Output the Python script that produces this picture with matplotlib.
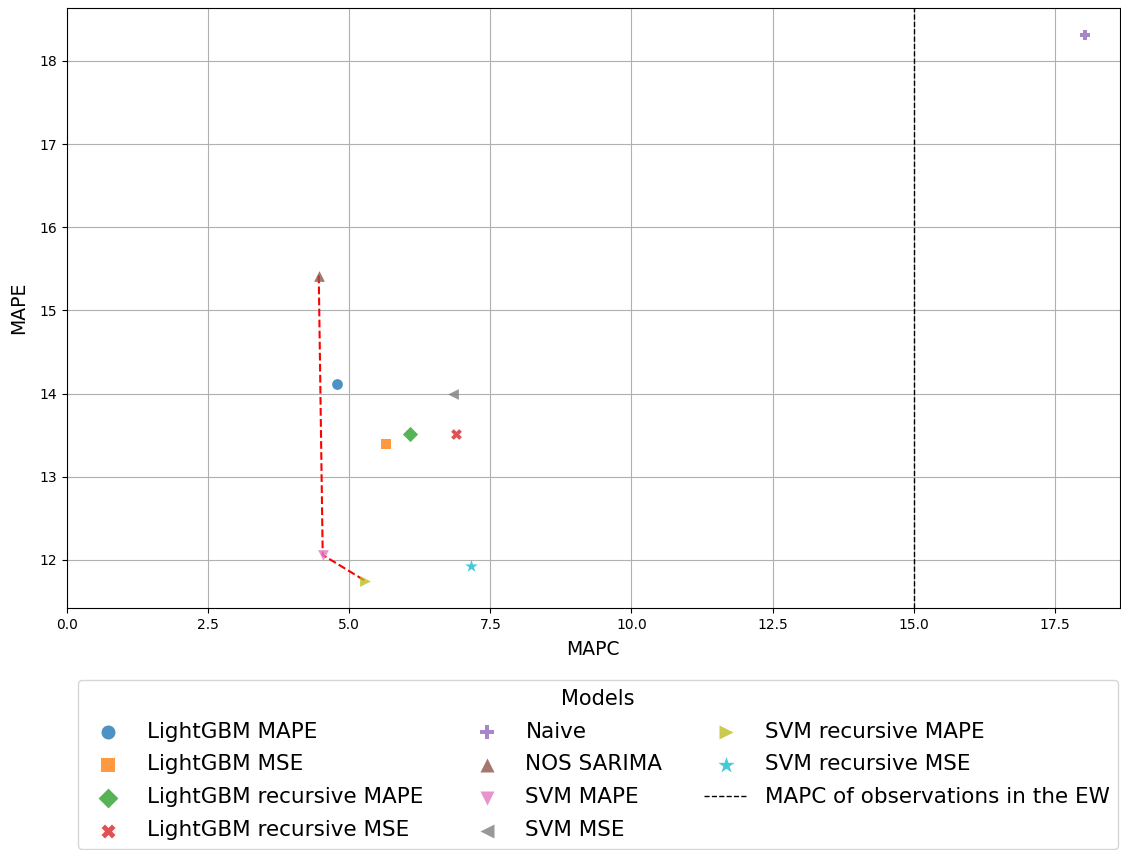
import matplotlib
matplotlib.use("Agg")
from matplotlib import pyplot as plt

models = ['LightGBM MAPE', 'LightGBM MSE', 'LightGBM recursive MAPE', 'LightGBM recursive MSE',
          'Naive', 'NOS SARIMA', 'SVM MAPE', 'SVM MSE', 'SVM recursive MAPE', 'SVM recursive MSE']
mapc = [4.78, 5.65, 6.07, 6.89, 18.03, 4.46, 4.53, 6.84, 5.28, 7.15]
mape = [14.11, 13.40, 13.51, 13.51, 18.31, 15.42, 12.06, 13.99, 11.75, 11.93]
markers = ['o', 's', 'D', 'X', 'P', '^', 'v', '<', '>', '*']

# pareto front
front = ['NOS SARIMA', 'SVM MAPE', 'SVM recursive MAPE']
ew_mapc = 15.0

colors = plt.rcParams['axes.prop_cycle'].by_key()['color']

fig = plt.figure(figsize=(11.21, 8.5), dpi=100)
ax = fig.add_axes([0.0598, 0.2847, 0.939, 0.706])
ax.grid(True)
ax.set_axisbelow(True)

handles = []
for i, m in enumerate(models):
    size = 90 if markers[i] == '*' else 60
    h = ax.scatter(mapc[i], mape[i], marker=markers[i], s=size, color=colors[i],
                   alpha=0.8, linewidths=0, label=m, zorder=3)
    handles.append(h)

fx = [mapc[models.index(n)] for n in front]
fy = [mape[models.index(n)] for n in front]
ax.plot(fx, fy, 'r--', linewidth=1.5, zorder=2)

ln = ax.axvline(ew_mapc, color='black', linestyle='--', linewidth=1,
                label='MAPC of observations in the EW')
handles.append(ln)

ax.set_xlim(0, 18.65)
ax.set_xlabel('MAPC', fontsize=13.5, labelpad=6)
ax.set_ylabel('MAPE', fontsize=13.5, labelpad=8)

fig.legend(handles=handles, labels=[h.get_label() for h in handles], title='Models',
           ncol=3, fontsize=15.5, title_fontsize=15, markerscale=1.3,
           loc='upper center', bbox_to_anchor=(0.5335, 0.2), borderaxespad=0,
           labelspacing=0.6, columnspacing=1.95)

fig.savefig('out.png', dpi=100)
